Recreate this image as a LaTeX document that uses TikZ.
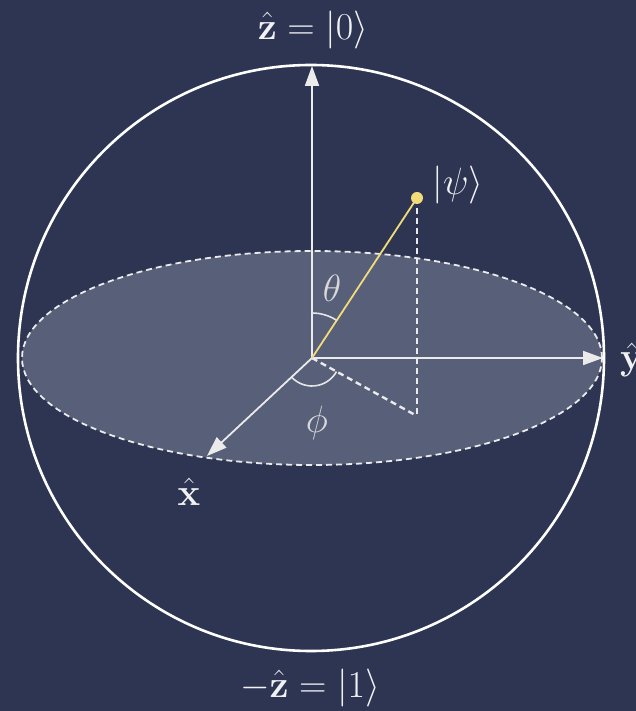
\RequirePackage{fix-cm}
\documentclass[tikz,border=0pt]{standalone}
\usepackage{amsmath}
\usetikzlibrary{arrows.meta}
\definecolor{bg}{HTML}{2D3553}
\definecolor{disk}{HTML}{575F79}
\definecolor{psiyel}{HTML}{F2DC7A}
\definecolor{txt}{HTML}{F2F2F4}
\tikzset{
  axis/.style={draw=white!92!black, line width=1.8pt, -{Triangle[length=20pt,width=14pt]}},
  guide/.style={draw=white!92!black, line width=2.4pt, dash pattern=on 6pt off 4pt},
  lbl/.style={text=txt, inner sep=0pt, font=\fontsize{38}{42}\selectfont},
  anglbl/.style={text=white!85!black, inner sep=0pt, font=\fontsize{38}{42}\selectfont},
}
\begin{document}
\begin{tikzpicture}[x=1pt,y=1pt]
\fill[bg] (-312,-353) rectangle (324,358);
\useasboundingbox (-312,-353) rectangle (324,358);
% equatorial disk
\fill[disk] (0,0) ellipse [x radius=290, y radius=107];
\draw[guide, line width=1.8pt] (0,0) ellipse [x radius=290, y radius=107];
% sphere
\draw[white, line width=2.6pt] (-1,0) circle [radius=293];
\coordinate (O) at (0,0);
\coordinate (Z) at (0,292);
\coordinate (Y) at (291,0);
\coordinate (X) at (-105,-98);
\coordinate (P) at (105,160);
\coordinate (F) at (105,-58);
% axes
\draw[axis] (O) -- (Z);
\draw[axis] (O) -- (Y);
\draw[axis] (O) -- (X);
% projections
\draw[guide] (P) -- (F);
\draw[guide] (O) -- (F);
% state vector
\draw[psiyel, line width=1.8pt] (O) -- (P);
\fill[psiyel] (P) circle [radius=6];
% angle arcs
\draw[white!90!black, line width=1.6pt] (0,45) arc [start angle=90, end angle=56.7, radius=45];
\draw[white!90!black, line width=1.6pt] (223:28) arc [start angle=223, end angle=331, radius=28];
% labels
\node[lbl] (zl) at (1,328) {$\hat{\mathbf{z}} = |0\rangle$};
\node[lbl] (ml) at (-2,-330) {$-\hat{\mathbf{z}} = |1\rangle$};
\node[lbl, anchor=west] (yl) at (308,-2) {$\hat{\mathbf{y}}$};
\node[lbl] (xl) at (-123,-134) {$\hat{\mathbf{x}}$};
\node[lbl] (pl) at (146,173) {$|\psi\rangle$};
\node[anglbl] (tl) at (20,70) {$\theta$};
\node[anglbl] (fl) at (5,-65) {$\phi$};
\end{tikzpicture}
\end{document}
